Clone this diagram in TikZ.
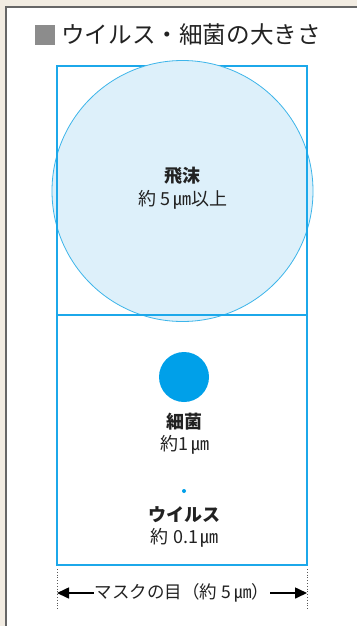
\documentclass[tikz,border=0pt]{standalone}
\usepackage{fontspec}
\setmainfont{Noto Sans CJK JP}
\usetikzlibrary{arrows.meta}
\definecolor{beige}{HTML}{F2ECE2}
\definecolor{frameblue}{HTML}{1CA8EA}
\definecolor{dropfill}{HTML}{DDF0FA}
\definecolor{dropline}{HTML}{3DB5EA}
\definecolor{germ}{HTML}{00A0E9}
\definecolor{txt}{HTML}{222222}
\tikzset{
  lbl/.style={text=txt, font=\fontsize{18}{20}\selectfont, align=center, inner sep=0pt},
  lblb/.style={text=txt, font=\fontsize{18}{20}\selectfont\bfseries, inner sep=0pt},
}
\begin{document}
\begin{tikzpicture}[x=1pt,y=-1pt]
\useasboundingbox (0,0) rectangle (357,626);
\fill[beige] (0,0) rectangle (357,626);
\fill[white] (6,7) rectangle (357,626);
\draw[gray!80!black, line width=2pt] (6,626) -- (6,7) -- (357,7);
% title
\fill[gray!90] (35,25) rectangle (55,45);
\node[anchor=base west, inner sep=0pt, text=txt, font=\fontsize{23.6}{26}\selectfont] (title) at (61,44) {ウイルス・細菌の大きさ};
% mask box
\coordinate (bl) at (57,565);
\coordinate (tr) at (307,66);
\draw[frameblue, line width=2.3pt] (bl) rectangle (tr);
% big droplet
\node[circle, draw=dropline, fill=dropfill, line width=0.8pt, minimum size=261pt, inner sep=0pt] (drop) at (182.5,191) {};
\draw[frameblue, line width=2.3pt] (57,315) -- (307,315);
\draw[frameblue, line width=2.3pt] (57,66) -- (57,565);
\draw[frameblue, line width=2.3pt] (307,66) -- (307,565);
\node[lblb] (dropt) at (182,176) {飛沫};
\node[lbl] (drops) at (183,200) {約 5\,㎛以上};
% bacteria
\node[circle, fill=germ, minimum size=50pt, inner sep=0pt] (germ) at (184,377) {};
\node[lblb] (germt) at (184,422) {細菌};
\node[lbl] (germs) at (185,445) {約1\,㎛};
% virus
\node[circle, fill=germ, minimum size=4pt, inner sep=0pt] (virus) at (184,491) {};
\node[lblb] (virt) at (184,515) {ウイルス};
\node[lbl] (virs) at (185,538) {約 0.1\,㎛};
% dimension
\coordinate (dl1) at (57,569); \coordinate (dl2) at (57,610);
\coordinate (dr1) at (307,569); \coordinate (dr2) at (307,610);
\draw[gray!70!black, dotted, line width=0.8pt] (dl1) -- (dl2);
\draw[gray!70!black, dotted, line width=0.8pt] (dr1) -- (dr2);
\node[lbl, font=\fontsize{17.5}{20}\selectfont] (mask) at (182,593) {マスクの目（約 5\,㎛）};
\coordinate (al) at (57,593); \coordinate (ar) at (307,593);
\draw[line width=1.6pt, -{Triangle[length=12pt,width=11pt]}] ([xshift=-1pt]mask.west) -- (al);
\draw[line width=1.6pt, -{Triangle[length=12pt,width=11pt]}] ([xshift=1pt]mask.east) -- (ar);
\end{tikzpicture}
\end{document}
